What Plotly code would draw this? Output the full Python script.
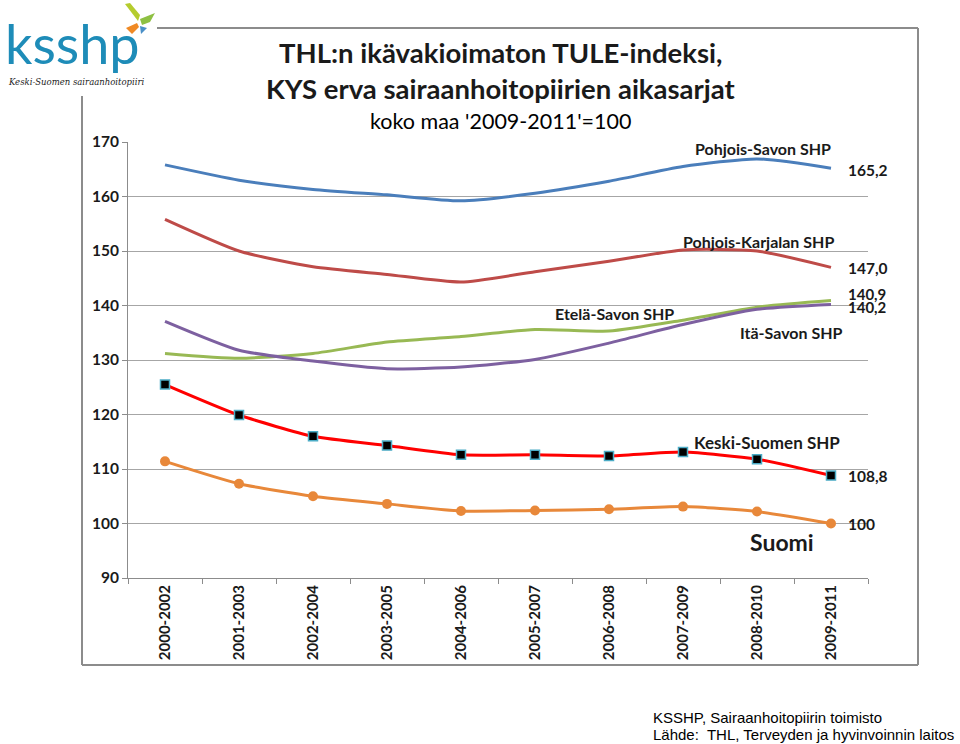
import plotly.graph_objects as go

categories = ["2000-2002", "2001-2003", "2002-2004", "2003-2005", "2004-2006",
              "2005-2007", "2006-2008", "2007-2009", "2008-2010", "2009-2011"]
pohjois_savo = [165.8, 163.0, 161.3, 160.3, 159.2, 160.6, 162.8, 165.5, 166.9, 165.2]
pohjois_karjala = [155.8, 150.0, 147.1, 145.7, 144.3, 146.2, 148.1, 150.2, 150.0, 147.0]
etela_savo = [131.2, 130.3, 131.2, 133.3, 134.3, 135.6, 135.3, 137.3, 139.7, 140.9]
ita_savo = [137.1, 131.8, 129.8, 128.4, 128.7, 130.1, 133.1, 136.5, 139.3, 140.2]
keski_suomi = [125.5, 119.9, 116.0, 114.3, 112.6, 112.6, 112.4, 113.1, 111.8, 108.8]
suomi = [111.4, 107.3, 105.0, 103.6, 102.3, 102.4, 102.6, 103.1, 102.2, 100.0]

W, H = 960, 744
L, R, T, B = 128, 868, 142, 578
FONT = "Lato"

def px(x):
    return (x - L) / (R - L)

def py(y):
    return (B - y) / (B - T)

fig = go.Figure()
smooth = 0.6
fig.add_trace(go.Scatter(x=categories, y=pohjois_savo, mode="lines",
                         line=dict(color="#4A7EBB", width=3, shape="spline", smoothing=smooth)))
fig.add_trace(go.Scatter(x=categories, y=pohjois_karjala, mode="lines",
                         line=dict(color="#BE4B48", width=3, shape="spline", smoothing=smooth)))
fig.add_trace(go.Scatter(x=categories, y=etela_savo, mode="lines",
                         line=dict(color="#98B954", width=3, shape="spline", smoothing=smooth)))
fig.add_trace(go.Scatter(x=categories, y=ita_savo, mode="lines",
                         line=dict(color="#7D60A0", width=3, shape="spline", smoothing=smooth)))
fig.add_trace(go.Scatter(x=categories, y=suomi, mode="lines+markers",
                         line=dict(color="#E8883A", width=3, shape="spline", smoothing=smooth),
                         marker=dict(symbol="circle", size=10, color="#E8883A")))
fig.add_trace(go.Scatter(x=categories, y=keski_suomi, mode="lines+markers",
                         line=dict(color="#FF0000", width=3, shape="spline", smoothing=smooth),
                         marker=dict(symbol="square", size=9, color="#000000",
                                     line=dict(color="#4BACC6", width=1.5))))

ann = []
def lab(x, y, text, size=14, bold=True, anchor="center", color="#1a1a1a"):
    t = f"<b>{text}</b>" if bold else text
    ann.append(dict(x=px(x), y=py(y), xref="paper", yref="paper", text=t, showarrow=False,
                    xanchor=anchor, yanchor="middle",
                    font=dict(family=FONT, size=size, color=color)))

lab(763, 148, "Pohjois-Savon SHP", 16)
lab(846, 170, "165,2", 15.5, anchor="left")
lab(758, 241, "Pohjois-Karjalan SHP", 16)
lab(846, 268, "147,0", 15.5, anchor="left")
lab(846, 294, "140,9", 15, anchor="left")
lab(846, 307, "140,2", 15, anchor="left")
lab(614, 313, "Etelä-Savon SHP", 16)
lab(791, 332, "Itä-Savon SHP", 16)
lab(767, 442, "Keski-Suomen SHP", 17)
lab(846, 476, "108,8", 15.5, anchor="left")
lab(846, 524, "100", 15.5, anchor="left")
lab(782, 542, "Suomi", 23)

# titles
lab(501, 53, "THL:n ikävakioimaton TULE-indeksi,", 27.5)
lab(501, 89, "KYS erva sairaanhoitopiirien aikasarjat", 27.5)
lab(501, 121, "koko maa '2009-2011'=100", 21.5, bold=False, color="#000000")

# logo
lab(3, 44, "ksshp", 54, bold=False, anchor="left", color="#1E8CB8")
ann.append(dict(x=px(6), y=py(82), xref="paper", yref="paper", showarrow=False,
                text="<i>Keski-Suomen sairaanhoitopiiri</i>", xanchor="left", yanchor="middle",
                font=dict(family="DejaVu Serif", size=8.5, color="#222222")))

# footer
for yy, tx in [(717, "KSSHP, Sairaanhoitopiirin toimisto"),
               (734, "Lähde:  THL, Terveyden ja hyvinvoinnin laitos")]:
    ann.append(dict(x=px(651), y=py(yy), xref="paper", yref="paper", showarrow=False, text=tx,
                    xanchor="left", yanchor="middle",
                    font=dict(family="Liberation Sans", size=15, color="#000000")))

shapes = [
    dict(type="line", xref="paper", yref="paper", x0=px(157), x1=px(918), y0=py(28), y1=py(28),
         line=dict(color="#8c8c8c", width=2)),
    dict(type="line", xref="paper", yref="paper", x0=px(918), x1=px(918), y0=py(28), y1=py(665),
         line=dict(color="#8c8c8c", width=2)),
    dict(type="line", xref="paper", yref="paper", x0=px(82), x1=px(918), y0=py(665), y1=py(665),
         line=dict(color="#8c8c8c", width=2)),
    dict(type="line", xref="paper", yref="paper", x0=px(82), x1=px(82), y0=py(96), y1=py(665),
         line=dict(color="#8c8c8c", width=2)),
]
# butterfly (logo mark)
def path(pts):
    return "M " + " L ".join(f"{px(a)},{py(b)}" for a, b in pts) + " Z"
shapes += [
    dict(type="path", xref="paper", yref="paper", path=path([(138, 21), (125, 4), (130, 3), (140, 15)]),
         fillcolor="#B5CC2E", line=dict(width=0)),
    dict(type="path", xref="paper", yref="paper", path=path([(140, 19), (155, 13), (150, 22), (142, 25)]),
         fillcolor="#8EC043", line=dict(width=0)),
    dict(type="path", xref="paper", yref="paper", path=path([(137, 23), (126, 28), (132, 34), (139, 27)]),
         fillcolor="#F08A24", line=dict(width=0)),
    dict(type="path", xref="paper", yref="paper", path=path([(140, 26), (147, 28), (141, 34)]),
         fillcolor="#4A90C8", line=dict(width=0)),
]

fig.update_layout(
    width=W, height=H,
    margin=dict(l=L, r=W - R, t=T, b=H - B),
    paper_bgcolor="white", plot_bgcolor="white",
    showlegend=False,
    font=dict(family=FONT, color="#1a1a1a"),
    annotations=ann, shapes=shapes,
    xaxis=dict(type="category", tickson="boundaries", ticks="outside", ticklen=5,
               tickcolor="#8c8c8c", showline=True, linecolor="#8c8c8c", linewidth=1,
               showgrid=False, tickangle=-90,
               tickfont=dict(family=FONT, size=15, color="#1a1a1a"),
               tickvals=categories, ticktext=[f"<b>{c}</b>" for c in categories],
               range=[-0.5, 9.5], fixedrange=True),
    yaxis=dict(range=[90, 170], dtick=10, showgrid=True, gridcolor="#a6a6a6", gridwidth=1,
               showline=True, linecolor="#8c8c8c", ticks="outside", ticklen=5, tickcolor="#8c8c8c",
               tickfont=dict(family=FONT, size=15.5, color="#1a1a1a"),
               tickvals=list(range(90, 171, 10)),
               ticktext=[f"<b>{v}</b>" for v in range(90, 171, 10)],
               zeroline=False, fixedrange=True),
)

fig.write_html("out.html", config={"displayModeBar": False},
               post_script="document.body.style.margin='0';document.body.style.overflow='hidden';")
